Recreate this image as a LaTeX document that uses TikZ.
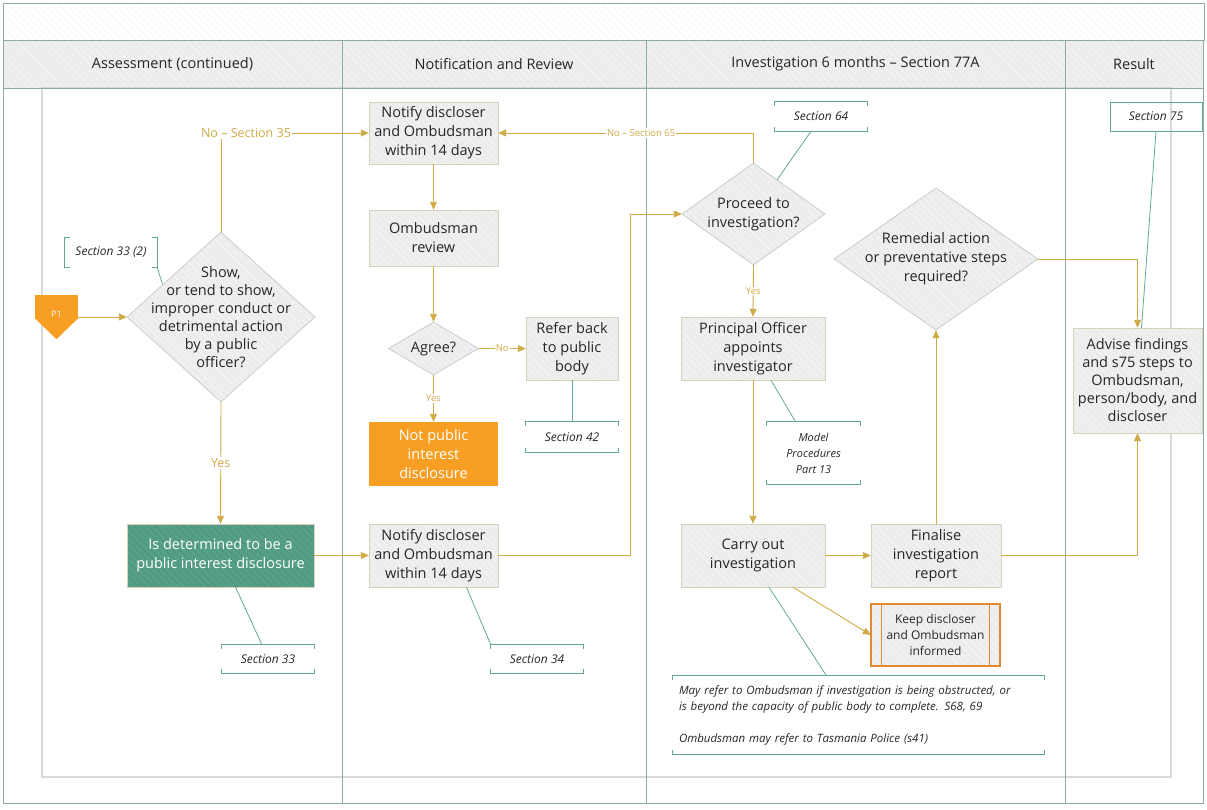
\documentclass[tikz,border=0pt]{standalone}
\usepackage{fontspec}
\setmainfont{Open Sans}
\usetikzlibrary{positioning,shapes.geometric,arrows.meta,calc,patterns.meta}
\definecolor{myframe}{RGB}{143,172,162}
\definecolor{myinner}{RGB}{217,217,217}
\definecolor{mygray}{RGB}{236,236,236}
\definecolor{myborder}{RGB}{214,208,188}
\definecolor{mydiam}{RGB}{196,208,202}
\definecolor{mygold}{RGB}{207,170,70}
\definecolor{myteal}{RGB}{98,170,146}
\definecolor{mygreen}{RGB}{86,160,136}
\definecolor{myorange}{RGB}{247,158,35}
\definecolor{myorangeline}{RGB}{226,137,48}
% open bracket round a section tag
\newcommand{\hbracket}[1]{%
  \draw[note] ([yshift=-4pt]#1.north west) -- (#1.north west) -- (#1.north east) -- ([yshift=-4pt]#1.north east);
  \draw[note] ([yshift=4pt]#1.south west) -- (#1.south west) -- (#1.south east) -- ([yshift=4pt]#1.south east);}

\begin{document}
\begin{tikzpicture}[x=1pt,y=-1pt,
	every node/.style={font=\fontsize{14.5}{19}\selectfont, text=black!85},
	flow/.style={draw=mygold, line width=0.9pt, -{Triangle[length=8pt,width=7pt]}},
	note/.style={draw=myteal, line width=0.8pt},
	hatch/.style={postaction={pattern={Lines[angle=-45,distance=5pt,line width=0.6pt]}, pattern color=#1}},
	outline/.style={postaction={draw=#1, line width=0.8pt}},
	box/.style={fill=mygray, hatch=white!65!mygray, outline=myborder, align=center, inner sep=2pt},
	pidbox/.style={fill=mygreen, hatch=mygreen!90!black, outline=myborder, text=white, align=center, inner sep=2pt},
	decision/.style={diamond, fill=mygray, hatch=white!65!mygray, outline=mydiam, inner sep=0pt},
	tag/.style={font=\fontsize{12}{16}\selectfont\itshape, align=center, inner sep=0pt},
	small/.style={font=\fontsize{9.5}{11}\selectfont, text=mygold, fill=white, inner sep=1pt},
	offpage/.style={fill=myorange, text=white, font=\fontsize{9}{10}\selectfont, minimum width=43pt, minimum height=23pt, inner sep=0pt},
	]
	\useasboundingbox (0,0) rectangle (1207,809);
	
	% the frame and the lanes
	\path[fill=white, hatch=mygray!50!white, outline=myframe] (3,3) rectangle (1204,40);
	\path[fill=mygray, hatch=white!65!mygray] (3,40) rectangle (1203,88);
	\draw[myinner, line width=1.2pt] (42,88) rectangle (1171,777);
	\draw[myframe, line width=0.8pt] (3,40) rectangle (1203,803);
	\draw[myframe, line width=0.8pt] (3,88) -- (1203,88);
	\foreach \x in {342,646,1065}
	\draw[myframe, line width=0.8pt] (\x,40) -- (\x,803);
	\foreach \cx/\txt [count=\i] in {172.5/Assessment (continued), 494/Notification and Review, 855.5/Investigation 6 months – Section 77A, 1134/Result}
	\node (lane\i) at (\cx,64) {\txt};
	
	% lane 1: assessment
	\node[offpage] (p1) at (56.5,306.5) {\raisebox{-8pt}[\height][0pt]{P1}};
	\fill[myorange] (p1.south west) -- (p1.south east) -- ([yshift=-21pt]p1.south) -- cycle;
	\node[decision, minimum width=188pt, minimum height=170pt, label={[align=center, font=\fontsize{14.5}{18}\selectfont]center:{Show,\\or tend to show,\\improper conduct or\\detrimental action\\by a public\\officer?}}] (show) at (221,317) {};
	\node[pidbox, minimum width=187pt, minimum height=63pt] (pid) at (220.5,555.5) {Is determined to be a\\public interest disclosure};
	\node[tag, minimum width=92pt, minimum height=29pt] (sec332) at (111,252.5) {Section 33 (2)};
	\node[tag, minimum width=92pt, minimum height=28pt] (sec33) at (268,659) {Section 33};
	
	% lane 2: notification and review
	\node[box, minimum width=129pt, minimum height=62pt] (notify1) at (433.5,133) {Notify discloser\\and Ombudsman\\within 14 days};
	\node[box, minimum width=129pt, minimum height=56pt] (review) at (433.5,238) {Ombudsman\\review};
	\node[decision, minimum width=90pt, minimum height=53pt, label=center:Agree?] (agree) at (433.5,348.5) {};
	\node[box, minimum width=92pt, minimum height=63pt] (refer) at (572,348.5) {Refer back\\to public\\body};
	\node[tag, minimum width=92pt, minimum height=30pt] (sec42) at (572,437) {Section 42};
	\node[fill=myorange, text=white, align=center, minimum width=129pt, minimum height=64pt] (notpid) at (433.5,454) {Not public\\interest\\disclosure};
	\node[box, minimum width=129pt, minimum height=63pt] (notify2) at (433.5,555.5) {Notify discloser\\and Ombudsman\\within 14 days};
	\node[tag, minimum width=92pt, minimum height=28pt] (sec34) at (537,659) {Section 34};
	
	% lane 3: investigation
	\node[decision, minimum width=143pt, minimum height=102pt, label={[align=center]center:{Proceed to\\investigation?}}] (proceed) at (753.5,214) {};
	\node[tag, minimum width=92pt, minimum height=29pt] (sec64) at (821,116.5) {Section 64};
	\node[box, minimum width=144pt, minimum height=63pt] (principal) at (753,348.5) {Principal Officer\\appoints\\investigator};
	\node[tag, minimum width=93pt, minimum height=62pt, font=\fontsize{11}{16}\selectfont\itshape] (model) at (813.5,453) {Model\\Procedures\\Part 13};
	\node[box, minimum width=144pt, minimum height=63pt] (carry) at (753,555.5) {Carry out\\investigation};
	\node[box, minimum width=130pt, minimum height=63pt] (finalise) at (936,555.5) {Finalise\\investigation\\report};
	\node[box, postaction={draw=myorangeline, line width=1.4pt}, minimum width=129pt, minimum height=62pt, font=\fontsize{12}{16}\selectfont] (keep) at (935.5,635) {Keep discloser\\and Ombudsman\\informed};
	\draw[myorangeline, line width=1.3pt] ([xshift=11pt]keep.north west) -- ([xshift=11pt]keep.south west);
	\draw[myorangeline, line width=1.3pt] ([xshift=-11pt]keep.north east) -- ([xshift=-11pt]keep.south east);
	\node[decision, minimum width=204pt, minimum height=142pt, label={[align=center]center:{Remedial action\\or preventative steps\\required?}}] (remedial) at (936,259) {};
	\node[tag, text width=359pt, align=left, inner sep=6pt, minimum height=78pt, font=\fontsize{11.5}{16}\selectfont\itshape] (note) at (858.5,715) {May refer to Ombudsman if investigation is being obstructed, or\\is beyond the capacity of public body to complete. S68, 69\\[16pt]Ombudsman may refer to Tasmania Police (s41)};
	
	% lane 4: result
	\node[tag, draw=myteal, line width=0.8pt, minimum width=92pt, minimum height=29pt] (sec75) at (1156,116.5) {Section 75};
	\node[box, minimum width=129pt, minimum height=105pt, font=\fontsize{14.5}{18}\selectfont] (advise) at (1137.5,380.5) {Advise findings\\and s75 steps to\\Ombudsman,\\person/body, and\\discloser};
	
	% the brackets
	\foreach \n in {sec33,sec34,sec42,sec64,model,note}
	\hbracket{\n}
	\draw[note] ([xshift=5pt]sec332.north west) -- (sec332.north west) -- (sec332.south west) -- ([xshift=5pt]sec332.south west);
	\draw[note] ([xshift=-5pt]sec332.north east) -- (sec332.north east) -- (sec332.south east) -- ([xshift=-5pt]sec332.south east);
	
	% the flow
	\draw[flow] (p1.east |- show.west) -- (show.west);
	\draw[flow] (show.north) |- node[pos=0.5, xshift=25pt, small, font=\fontsize{12.5}{14}\selectfont] {No – Section 35} (notify1.west);
	\draw[flow] (show.south) -- node[small, font=\fontsize{12.5}{14}\selectfont] {Yes} (pid.north);
	\draw[flow] (pid.east) -- (notify2.west);
	\draw[flow] (notify1.south) -- (review.north);
	\draw[flow] (review.south) -- (agree.north);
	\draw[flow] (agree.east) -- node[small] {No} (refer.west);
	\draw[flow] (agree.south) -- node[small] {Yes} (notpid.north);
	\draw[flow] (notify2.east) -- ++(132,0) |- (proceed.west);
	\draw[flow] (proceed.north) |- node[pos=0.72, small] {No – Section 65} (notify1.east);
	\draw[flow] (proceed.south) -- node[small] {Yes} (principal.north);
	\draw[flow] (principal.south) -- (carry.north);
	\draw[flow] (carry.east) -- (finalise.west);
	\draw[flow] ([xshift=40pt]carry.south) -- (keep.west);
	\draw[flow] (finalise.north) -- (remedial.south);
	\draw[flow] (remedial.east) -| (advise.north);
	\draw[flow] (finalise.east) -| (advise.south);
	
	% the references
	\draw[note] (sec332.south east) -- ($(show.west)!0.38!(show.north)$);
	\draw[note] ([xshift=15pt]pid.south) -- ([xshift=-6pt]sec33.north);
	\draw[note] ([xshift=33pt]notify2.south) -- (sec34.north west);
	\draw[note] (refer.south) -- (sec42.north);
	\draw[note] ([xshift=-10pt]sec64.south) -- ($(proceed.north)!0.33!(proceed.east)$);
	\draw[note] ([xshift=18pt]principal.south) -- ([xshift=-18pt]model.north);
	\draw[note] ([xshift=16pt]carry.south) -- ([xshift=-32pt]note.north);
	\draw[note] (sec75.south) -- ([xshift=4pt]advise.north);
\end{tikzpicture}
\end{document}
